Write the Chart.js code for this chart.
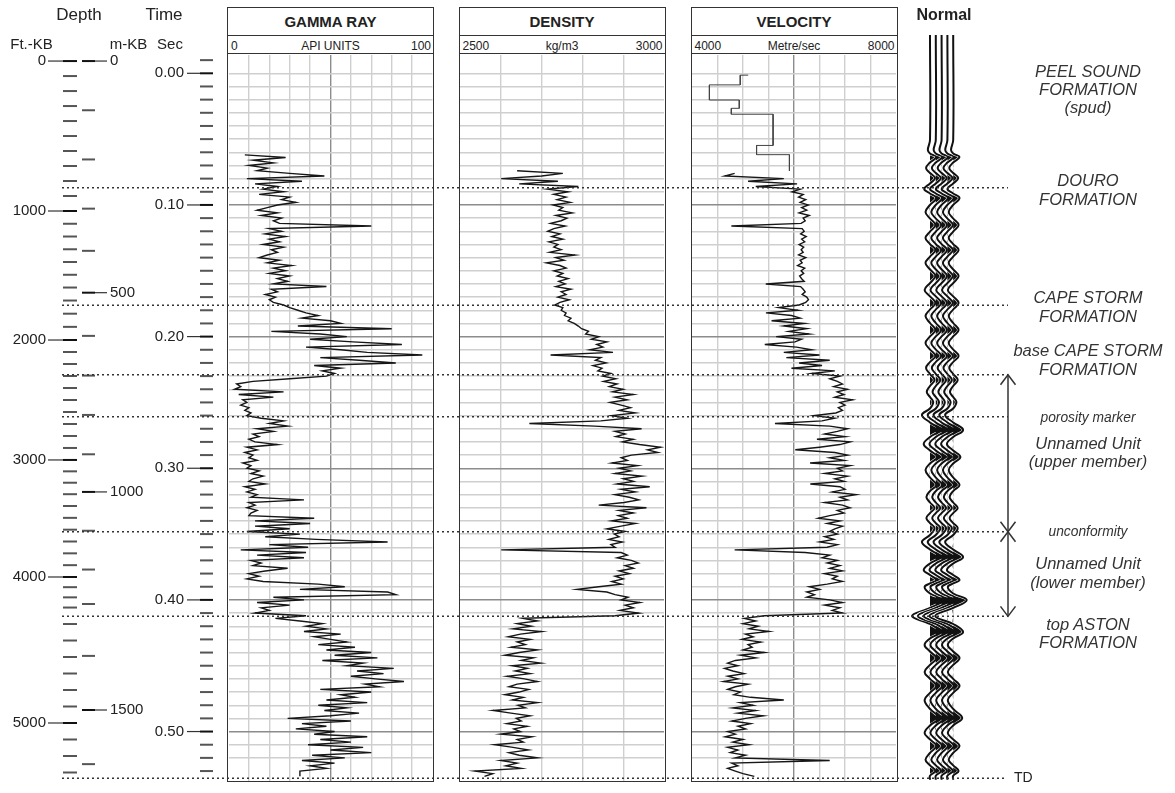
<!DOCTYPE html>
<html>
<head>
<meta charset="utf-8">
<script src="https://cdn.jsdelivr.net/npm/chart.js@4.4.1/dist/chart.umd.min.js"></script>
<style>
  body { margin: 0; background: #fff; }
  #page { position: relative; width: 1175px; height: 793px; overflow: hidden;
          font-family: 'Liberation Sans', Arial, sans-serif; color: #222; }
  #page canvas { position: absolute; left: 0; top: 0; }
  .txt { position: absolute; white-space: nowrap; transform: translate(-50%, -50%); line-height: 1; }
  .note { position: absolute; left: 1088px; white-space: nowrap; transform: translate(-50%, -50%);
          font-style: italic; font-size: 16.5px; color: #333; line-height: 1; }
  .note.small { font-size: 13.8px; }
  .box { position: absolute; top: 7px; width: 207px; height: 774.5px; border: 1.5px solid #333; box-sizing: border-box; }
  .box .title { height: 26.5px; border-bottom: 1.5px solid #333; font-weight: bold; font-size: 15px;
                text-align: center; line-height: 27px; }
  .box .units { position: relative; height: 17.5px; border-bottom: 1.5px solid #333; font-size: 12px; }
  .units span { position: absolute; top: 4px; line-height: 12px; }
  .units .l { left: 3px; }
  .units .c { left: 50%; transform: translateX(-50%); }
  .units .r { right: 2px; }
</style>
</head>
<body>
<div id="page">
  <div class="box" style="left:227px"><div class="title">GAMMA RAY</div>
    <div class="units"><span class="l">0</span><span class="c">API UNITS</span><span class="r">100</span></div></div>
  <div class="box" style="left:458.5px"><div class="title">DENSITY</div>
    <div class="units"><span class="l">2500</span><span class="c">kg/m3</span><span class="r">3000</span></div></div>
  <div class="box" style="left:690.5px"><div class="title">VELOCITY</div>
    <div class="units"><span class="l">4000</span><span class="c">Metre/sec</span><span class="r">8000</span></div></div>

  <canvas id="gammaChart" width="1175" height="793"></canvas>
  <canvas id="densityChart" width="1175" height="793"></canvas>
  <canvas id="velocityChart" width="1175" height="793"></canvas>
  <canvas id="seismicChart" width="1175" height="793"></canvas>
  <canvas id="overlayChart" width="1175" height="793"></canvas>

  <div class="txt" style="left:79px;top:14px;font-size:17px">Depth</div>
  <div class="txt" style="left:164px;top:14px;font-size:17px">Time</div>
  <div class="txt" style="left:31.5px;top:43px;font-size:15px">Ft.-KB</div>
  <div class="txt" style="left:128.5px;top:43px;font-size:15px">m-KB</div>
  <div class="txt" style="left:170px;top:43px;font-size:15px">Sec</div>
  <div class="txt" style="left:944px;top:15px;font-size:16px;font-weight:bold">Normal</div>

  <div class="note" style="top:71px">PEEL SOUND</div>
  <div class="note" style="top:89px">FORMATION</div>
  <div class="note" style="top:107px">(spud)</div>
  <div class="note" style="top:180px">DOURO</div>
  <div class="note" style="top:198.5px">FORMATION</div>
  <div class="note" style="top:297px">CAPE STORM</div>
  <div class="note" style="top:315.5px">FORMATION</div>
  <div class="note" style="top:350px">base CAPE STORM</div>
  <div class="note" style="top:368.5px">FORMATION</div>
  <div class="note small" style="top:418px">porosity marker</div>
  <div class="note" style="top:443px">Unnamed Unit</div>
  <div class="note" style="top:461px">(upper member)</div>
  <div class="note small" style="top:532px">unconformity</div>
  <div class="note" style="top:563px">Unnamed Unit</div>
  <div class="note" style="top:581.5px">(lower member)</div>
  <div class="note" style="top:623.5px">top ASTON</div>
  <div class="note" style="top:642px">FORMATION</div>
</div>

<script>

// gamma ray, API units, sampled every 2 ms starting at 0.062 s
const gammaStart = 0.062;
const gammaApi = [
  8, 28, 12, 22, 10, 19, 14, 30, 47, 9,
  36, 13, 24, 17, 27, 15, 30, 26, 33, 24,
  19, 14, 24, 16, 26, 22, 25, 70, 20, 26,
  18, 28, 20, 25, 17, 27, 21, 24, 19, 15,
  25, 19, 31, 22, 28, 20, 30, 24, 29, 22,
  48, 21, 24, 18, 23, 20, 22, 27, 30, 34,
  38, 44, 36, 50, 55, 34, 80, 21, 45, 58,
  40, 61, 85, 38, 55, 68, 95, 45, 64, 82,
  42, 55, 46, 52, 48, 30, 12, 4, 6, 3,
  27, 5, 22, 7, 9, 6, 10, 8, 11, 9,
  16, 27, 20, 29, 14, 22, 12, 15, 10, 13,
  24, 9, 14, 8, 12, 10, 14, 7, 11, 9,
  15, 11, 17, 12, 10, 18, 8, 13, 9, 14,
  11, 37, 10, 13, 9, 14, 11, 10, 42, 13,
  40, 13, 30, 9, 35, 18, 43, 78, 20, 39,
  6, 38, 14, 37, 11, 16, 12, 29, 18, 10,
  15, 9, 17, 44, 57, 35, 78, 82, 22, 37,
  14, 30, 16, 20, 13, 38, 23, 35, 46, 38,
  48, 37, 55, 42, 50, 58, 44, 62, 48, 70,
  52, 73, 46, 66, 58, 81, 63, 76, 60, 72,
  86, 67, 74, 45, 70, 55, 62, 48, 68, 44,
  58, 47, 64, 50, 29, 60, 36, 48, 33, 52,
  42, 68, 45, 60, 39, 66, 50, 70, 41, 57,
  36, 52, 40, 48, 35, 35, 35
];

// density, kg/m3, every 2 ms from 0.074 s
const densityStart = 0.074;
const densityKgm3 = [
  2640, 2752, 2700, 2601, 2740, 2645, 2790, 2715, 2765, 2730,
  2760, 2738, 2770, 2728, 2752, 2742, 2775, 2735, 2762, 2748,
  2722, 2758, 2730, 2715, 2745, 2725, 2752, 2718, 2740, 2730,
  2748, 2720, 2782, 2735, 2755, 2712, 2745, 2760, 2730, 2752,
  2738, 2765, 2742, 2758, 2735, 2772, 2748, 2760, 2740, 2768,
  2745, 2732, 2752, 2748, 2760, 2756, 2772, 2765, 2780, 2790,
  2798, 2815, 2808, 2840, 2822, 2860, 2835, 2850, 2818, 2875,
  2722, 2845, 2832, 2858, 2826, 2848, 2838, 2870, 2850, 2882,
  2852, 2885, 2866, 2900, 2874, 2925, 2880, 2910, 2868, 2895,
  2918, 2890, 2930, 2872, 2910, 2845, 2670, 2830, 2945, 2880,
  2905, 2882, 2925, 2898, 2940, 2992, 2960, 2985, 2920, 2895,
  2910, 2872, 2935, 2890, 2918, 2880, 2946, 2900, 2925, 2885,
  2965, 2895, 2930, 2880, 2915, 2938, 2902, 2840, 2957, 2890,
  2925, 2888, 2910, 2872, 2930, 2895, 2860, 2905, 2878, 2890,
  2865, 2898, 2870, 2880, 2601, 2895, 2910, 2885, 2920, 2937,
  2905, 2925, 2890, 2915, 2880, 2900, 2872, 2895, 2840, 2787,
  2860, 2880, 2912, 2895, 2941, 2905, 2925, 2892, 2938, 2880,
  2654, 2690, 2640, 2675, 2630, 2700, 2648, 2618, 2672, 2640,
  2660, 2625, 2690, 2645, 2610, 2680, 2650, 2698, 2628, 2665,
  2635, 2672, 2615, 2658, 2690, 2640, 2620, 2668, 2645, 2610,
  2655, 2628, 2690, 2642, 2660, 2581, 2625, 2672, 2638, 2650,
  2615, 2665, 2632, 2648, 2600, 2676, 2640, 2655, 2585, 2630,
  2668, 2620, 2645, 2690, 2600, 2640, 2612, 2650, 2536, 2580,
  2560
];

// velocity: blocky checkshot section at the top, then the sonic log every 2 ms from 0.076 s
const velBlockTops = [0.0014, 0.0088, 0.0203, 0.0266, 0.0311, 0.0548, 0.0618, 0.0741];
const velBlockValues = [4946, 4341, 4927, 4771, 5590, 5266, 5910];
const velBlockStub = 5102;
const velocityStart = 0.076;
const velocityMs = [
  4836, 4643, 5800, 5100, 6060, 5250, 6120, 5960, 6180, 6090,
  6230, 6120, 6280, 6150, 6250, 6100, 6300, 6180, 6220, 6140,
  4772, 6160, 6200, 6130, 6240, 6150, 6210, 6100, 6190, 6140,
  6180, 6090, 6230, 6120, 6160, 6070, 6210, 6140, 6190, 6110,
  6150, 6200, 5447, 6130, 6180, 6220, 6160, 6250, 6283, 6230,
  6100, 5700, 6080, 5450, 5950, 6120, 5560, 6200, 5800, 6250,
  5900, 6300, 5650, 6150, 6020, 5427, 6050, 6350, 5800, 6500,
  5850, 6700, 6100, 6550, 5950, 6800, 6350, 6900, 6700, 6850,
  6950, 6780, 7050, 6850, 6980, 6800, 7150, 6900, 7000, 6870,
  6950, 6820, 6400, 6800, 6550, 5627, 6700, 7050, 6850, 6600,
  7000, 6450, 7100, 6900, 6500, 6025, 6800, 7050, 6700, 6980,
  6315, 7100, 6850, 6950, 6600, 7050, 6800, 6980, 6320, 6900,
  7000, 6750, 7215, 6900, 7050, 6600, 6950, 7100, 6850, 6980,
  6700, 6475, 6900, 6650, 6950, 6800, 6700, 6850, 6600, 6780,
  6500, 6850, 6650, 4836, 6218, 6700, 6550, 6850, 6650, 6900,
  6700, 6950, 6600, 6850, 6750, 6950, 6650, 6300, 6500, 6250,
  6400, 6250, 6700, 6950, 6600, 6900, 6750, 6950, 5415, 5030,
  5250, 5000, 5300, 5120, 5510, 5050, 5200, 4980, 5350, 5100,
  5180, 5000, 5420, 4950, 5250, 4850, 4700, 4900, 4640, 4800,
  5020, 4700, 4900, 4620, 5100, 4850, 4700, 4950, 4820, 5150,
  5800, 4950, 5200, 4800, 5250, 4900, 5400, 5050, 4780, 5150,
  4900, 5050, 4700, 4850, 4650, 5000, 4800, 5120, 4700, 4900,
  4750, 5050, 4850, 6700, 4780, 4900, 4700, 4850, 5000, 5222
];
const sampleStep = 0.002;

// synthetic trace (normal polarity): two-way time and normalised amplitude
const seisTime = [
  -0.0291, 0.0507, 0.0583, 0.0609, 0.0636, 0.0678, 0.0719, 0.0757, 0.0795, 0.0837,
  0.0879, 0.0913, 0.0947, 0.1000, 0.1053, 0.1103, 0.1152, 0.1202, 0.1251, 0.1297,
  0.1342, 0.1392, 0.1441, 0.1490, 0.1540, 0.1593, 0.1646, 0.1695, 0.1745, 0.1794,
  0.1844, 0.1897, 0.1950, 0.1999, 0.2048, 0.2098, 0.2147, 0.2193, 0.2238, 0.2284,
  0.2330, 0.2375, 0.2421, 0.2459, 0.2497, 0.2546, 0.2595, 0.2652, 0.2709, 0.2763,
  0.2816, 0.2865, 0.2914, 0.2964, 0.3013, 0.3070, 0.3127, 0.3173, 0.3218, 0.3260,
  0.3302, 0.3340, 0.3378, 0.3416, 0.3454, 0.3507, 0.3560, 0.3617, 0.3674, 0.3723,
  0.3773, 0.3811, 0.3849, 0.3875, 0.3902, 0.3951, 0.4001, 0.4061, 0.4122, 0.4183,
  0.4244, 0.4293, 0.4342, 0.4392, 0.4441, 0.4494, 0.4547, 0.4600, 0.4653, 0.4706,
  0.4760, 0.4828, 0.4897, 0.4954, 0.5011, 0.5060, 0.5110, 0.5162, 0.5215, 0.5257,
  0.5300, 0.5336, 0.5367
];
const seisAmp = [
  0, 0, -0.12, 0, 0.35, 0, -0.22, 0, 0.28, 0,
  -0.32, 0, 0.35, 0, -0.25, 0, 0.30, 0, -0.25, 0,
  0.30, 0, -0.25, 0, 0.30, 0, -0.30, 0, 0.30, 0,
  -0.25, 0, 0.30, 0, -0.25, 0, 0.30, 0, -0.22, 0,
  0.25, 0, -0.18, 0, 0.18, 0, -0.45, 0, 0.55, 0,
  -0.35, 0, 0.40, 0, -0.25, 0, 0.35, 0, -0.20, 0,
  0.25, 0, -0.20, 0, 0.25, 0, -0.45, 0, 0.55, 0,
  -0.35, 0, 0.35, 0, -0.30, 0, 0.75, 0, -1.00, 0,
  0.55, 0, -0.30, 0, 0.35, 0, -0.30, 0, 0.35, 0,
  -0.30, 0, 0.50, 0, -0.30, 0, 0.35, 0, -0.25, 0,
  0.30, 0, 0
];

// formation tops (s) and total depth
const formationTops = [0.0870, 0.1762, 0.2290, 0.2608, 0.3482, 0.4125];
const tdTime = 0.5355;

// time-depth pairs (ft KB -> s)
const checkshotFt = [0, 1000, 1640, 2000, 3000, 3281, 4000, 4300, 4921, 5000, 5300];
const checkshotTime = [-0.0093, 0.1046, 0.1666, 0.2026, 0.2937, 0.3180, 0.3826, 0.4058, 0.4836, 0.4935, 0.5311];

// ---- layout ----
const W = 1175, H = 793;
const tAt = y => (y - 73.3) / 1316.5;   // page y -> seconds
const GRID_TOP = 55, GRID_BOTTOM = 781;
const FT_PER_M = 3.28084;
const font = "'Liberation Sans', Arial, sans-serif";
Chart.defaults.font.family = font;

function depthToTime(ft) {
  for (let i = 1; i < checkshotFt.length; i++) {
    if (ft <= checkshotFt[i]) {
      const f = (ft - checkshotFt[i - 1]) / (checkshotFt[i] - checkshotFt[i - 1]);
      return checkshotTime[i - 1] + f * (checkshotTime[i] - checkshotTime[i - 1]);
    }
  }
  return checkshotTime[checkshotTime.length - 1];
}

function sampled(values, start) {
  return values.map((v, i) => ({ x: v, y: start + i * sampleStep }));
}

function timeGridColor(v) {
  if (v <= tAt(GRID_TOP) + 1e-6 || v >= tAt(GRID_BOTTOM) - 1e-6) return 'rgba(0,0,0,0)';
  const tenth = v > 0.05 && Math.abs(v * 10 - Math.round(v * 10)) < 1e-6;
  return tenth ? '#8c8c8c' : '#cfcfcf';
}

function logChart(id, left, right, xMin, xMax, xStep, darkX, datasets) {
  return new Chart(document.getElementById(id), {
    type: 'scatter',
    data: { datasets: datasets },
    options: {
      responsive: false, animation: false, devicePixelRatio: 1, events: [],
      layout: { padding: { left: left, right: W - right, top: GRID_TOP, bottom: H - GRID_BOTTOM } },
      plugins: { legend: { display: false }, tooltip: { enabled: false } },
      scales: {
        x: {
          min: xMin, max: xMax,
          ticks: { display: false, stepSize: xStep },
          border: { display: false },
          grid: {
            drawTicks: false, lineWidth: 1.4,
            color: c => {
              const v = c.tick.value;
              if (v <= xMin || v >= xMax) return 'rgba(0,0,0,0)';
              return v === darkX ? '#8c8c8c' : '#cfcfcf';
            }
          }
        },
        y: {
          reverse: true, min: tAt(GRID_TOP), max: tAt(GRID_BOTTOM),
          ticks: { display: false, stepSize: 0.01 },
          border: { display: false },
          grid: { drawTicks: false, lineWidth: 1.4, color: c => timeGridColor(c.tick.value) }
        }
      }
    }
  });
}

function logLine(points, color, width) {
  return { data: points, showLine: true, pointRadius: 0, borderColor: color, borderWidth: width, tension: 0 };
}

logChart('gammaChart', 228.5, 432.5, 0, 100, 10, 50,
  [logLine(sampled(gammaApi, gammaStart), '#161616', 1.4)]);

logChart('densityChart', 460, 664, 2500, 3000, 100, null,
  [logLine(sampled(densityKgm3, densityStart), '#161616', 1.4)]);

const velBlock = [{ x: velBlockStub, y: velBlockTops[0] }];
velBlockValues.forEach((v, i) => {
  velBlock.push({ x: v, y: velBlockTops[i] }, { x: v, y: velBlockTops[i + 1] });
});
logChart('velocityChart', 692, 896, 4000, 8000, 500, 6000, [
  logLine(velBlock, '#444', 1),
  logLine(sampled(velocityMs, velocityStart), '#161616', 1.4)
]);

// synthetic seismogram: 5 identical traces, positive lobes filled black,
// each wiggle drawn with a thin white halo so neighbouring traces stay separated
const traceSpacing = 5.8, traceGain = 18;
const seisSets = [];
for (let k = 0; k < 5; k++) {
  const off = k * traceSpacing;
  const wiggle = seisTime.map((t, i) => ({ x: off + seisAmp[i] * traceGain, y: t }));
  const lobes = seisTime.map((t, i) => ({ x: off + Math.max(seisAmp[i], 0) * traceGain, y: t }));
  const base = 100 - k * 3;
  seisSets.push({
    data: lobes, showLine: true, pointRadius: 0, borderWidth: 0, borderColor: 'rgba(0,0,0,0)',
    backgroundColor: '#111', fill: 'shape', tension: 0.4, order: base
  });
  seisSets.push({
    data: wiggle, showLine: true, pointRadius: 0, borderColor: '#fff', borderWidth: 3.0,
    tension: 0.4, order: base - 1
  });
  seisSets.push({
    data: wiggle, showLine: true, pointRadius: 0, borderColor: '#111', borderWidth: 2.0,
    tension: 0.4, order: base - 2
  });
}
new Chart(document.getElementById('seismicChart'), {
  type: 'scatter',
  data: { datasets: seisSets },
  options: {
    responsive: false, animation: false, devicePixelRatio: 1, events: [],
    layout: { padding: { left: 900, right: W - 990, top: 35, bottom: H - GRID_BOTTOM } },
    plugins: { legend: { display: false }, tooltip: { enabled: false } },
    scales: {
      x: { display: false, min: -30, max: 60 },
      y: { display: false, reverse: true, min: tAt(35), max: tAt(GRID_BOTTOM) }
    }
  }
});

// depth/time scales, formation tops and arrows, drawn on the shared time scale
function seg(ctx, x0, x1, y, color, width) {
  ctx.strokeStyle = color;
  ctx.lineWidth = width;
  ctx.beginPath();
  ctx.moveTo(x0, y);
  ctx.lineTo(x1, y);
  ctx.stroke();
}
function label(ctx, s, x, y, align) {
  ctx.textAlign = align;
  ctx.fillText(s, x, y);
}
function chevron(ctx, x, y, dir) {
  ctx.beginPath();
  ctx.moveTo(x - 7.5, y + dir * 10);
  ctx.lineTo(x, y);
  ctx.lineTo(x + 7.5, y + dir * 10);
  ctx.stroke();
}

const wellOverlay = {
  id: 'wellOverlay',
  afterDraw(chart) {
    const ctx = chart.ctx;
    const py = t => chart.scales.y.getPixelForValue(t);
    ctx.save();
    ctx.font = '15px ' + font;
    ctx.fillStyle = '#222';
    ctx.textBaseline = 'middle';

    for (let ft = 0; ft <= 5300; ft += 100) {
      const y = py(depthToTime(ft));
      const major = ft % 1000 === 0;
      seg(ctx, 63, 77, y, major ? '#111' : '#555', 2);
      if (major) { seg(ctx, 48, 63, y, '#333', 1.2); label(ctx, String(ft), 46, y, 'right'); }
    }
    for (let m = 0; m <= 1600; m += 100) {
      const y = py(depthToTime(m * FT_PER_M));
      const major = m % 500 === 0;
      seg(ctx, 82, 95, y, major ? '#111' : '#555', 2);
      if (major) { seg(ctx, 95, 107, y, '#333', 1.2); label(ctx, String(m), 110, y, 'left'); }
    }
    for (let i = -1; i <= 53; i++) {
      const t = i / 100, y = py(t);
      const major = i >= 0 && i % 10 === 0;
      seg(ctx, 200, 213, y, major ? '#111' : '#555', 2);
      if (major) { seg(ctx, 187, 200, y, '#333', 1.2); label(ctx, t.toFixed(2), 184, y, 'right'); }
    }

    ctx.setLineDash([2, 3]);
    formationTops.forEach(t => seg(ctx, 62, 1008, py(t), '#333', 1.5));
    seg(ctx, 62, 1005, py(tdTime), '#333', 1.5);
    ctx.setLineDash([]);

    // unit brackets: base Cape Storm -> unconformity -> top Aston
    const xa = 1008;
    const yA = py(formationTops[2]), yB = py(formationTops[4]), yC = py(formationTops[5]);
    ctx.strokeStyle = '#333';
    ctx.lineWidth = 1.5;
    ctx.beginPath();
    ctx.moveTo(xa, yA);
    ctx.lineTo(xa, yC);
    ctx.stroke();
    chevron(ctx, xa, yA, 1);
    chevron(ctx, xa, yB, -1);
    chevron(ctx, xa, yB, 1);
    chevron(ctx, xa, yC, -1);

    ctx.font = '14px ' + font;
    label(ctx, 'TD', 1014, py(tdTime), 'left');
    ctx.restore();
  }
};

new Chart(document.getElementById('overlayChart'), {
  type: 'scatter',
  data: { datasets: [] },
  options: {
    responsive: false, animation: false, devicePixelRatio: 1, events: [],
    layout: { padding: { left: 0, right: 0, top: GRID_TOP, bottom: H - GRID_BOTTOM } },
    plugins: { legend: { display: false }, tooltip: { enabled: false } },
    scales: {
      x: { display: false, min: 0, max: 1 },
      y: { display: false, reverse: true, min: tAt(GRID_TOP), max: tAt(GRID_BOTTOM) }
    }
  },
  plugins: [wellOverlay]
});
</script>
</body>
</html>
